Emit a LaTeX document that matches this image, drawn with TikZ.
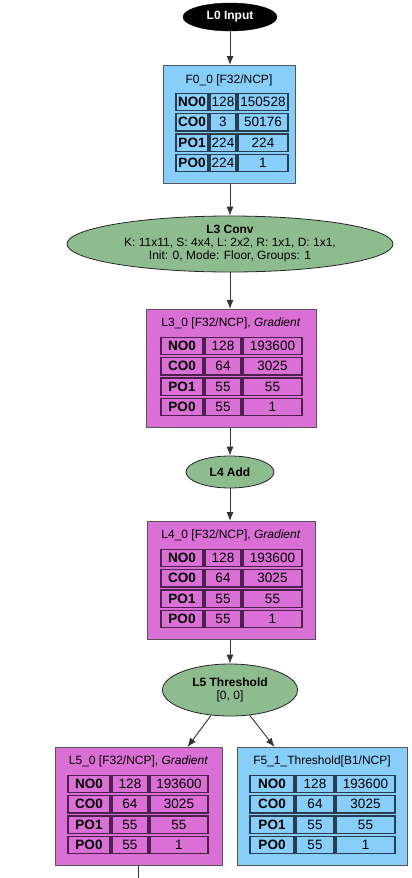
\documentclass[tikz,border=0pt]{standalone}
\usepackage{fontspec}
\setmainfont{Liberation Sans}
\usetikzlibrary{arrows.meta,shapes.geometric}
\definecolor{boxblue}{HTML}{87CEFA}
\definecolor{boxmag}{HTML}{DA70D6}
\definecolor{opgreen}{HTML}{8FBC8F}
\definecolor{bcelldraw}{RGB}{40,62,78}
\definecolor{mcelldraw}{RGB}{78,32,78}
\definecolor{boxline}{RGB}{85,85,85}
\tikzset{
  op/.style={ellipse, draw=black!85, line width=0.8pt, fill=opgreen, inner sep=0pt,
    font=\fontsize{12}{13}\selectfont, align=center},
  bluebox/.style={draw=boxline, line width=1pt, fill=boxblue, anchor=north, minimum height=118pt},
  magbox/.style={draw=boxline, line width=1pt, fill=boxmag, anchor=north, minimum height=118pt},
  titl/.style={font=\fontsize{12}{14}\selectfont, inner sep=0pt},
  bcell/.style={draw=bcelldraw, line width=1.3pt, fill=boxblue, inner sep=0pt, minimum height=17.5pt,
    font=\fontsize{13.5}{14}\selectfont},
  mcell/.style={draw=mcelldraw, line width=1.3pt, fill=boxmag, inner sep=0pt, minimum height=17.5pt,
    font=\fontsize{13.5}{14}\selectfont},
  arr/.style={-{Latex[length=9pt,width=7pt]}, draw=black!80, line width=0.9pt},
  plainline/.style={draw=black!80, line width=0.9pt},
}
% #1 prefix, #2 table left x, #3 first row centre y, #4 #5 #6 column widths, #7 cell style, #8 rows
\newcommand\gtable[8]{%
  \foreach \lab/\va/\vb [count=\i from 0] in {#8} {
    \node[#7, minimum width=#4pt] (#1-\i-a) at ({#2+#4/2}, {#3+20.3*\i}) {\bfseries\lab};
    \node[#7, minimum width=#5pt] (#1-\i-b) at ({#2+#4+2+#5/2}, {#3+20.3*\i}) {\va};
    \node[#7, minimum width=#6pt] (#1-\i-c) at ({#2+#4+2+#5+2+#6/2}, {#3+20.3*\i}) {\vb};
  }%
}
\begin{document}
\begin{tikzpicture}[x=1pt,y=-1pt]
\useasboundingbox (0,0) rectangle (412,878);
\fill[white] (0,0) rectangle (412,878);

% L0 Input
\node[ellipse, fill=black, draw=black, minimum width=94pt, minimum height=28pt, inner sep=0pt,
  text=white, font=\bfseries\fontsize{12}{13}\selectfont] (l0) at (230,17) {L0 Input};

% F0_0
\node[bluebox, minimum width=132pt] (f0) at (229,65) {};
\node[titl] (f0t) at ([yshift=-15pt]f0.north) {F0\_0 [F32/NCP]};
\gtable{f0c}{176}{102}{32}{26}{50}{bcell}{NO0/128/150528, CO0/3/50176, PO1/224/224, PO0/224/1}

% L3 Conv
\node[op, minimum width=326pt, minimum height=56pt] (l3) at (230,244)
  {\textbf{L3 Conv}\\K: 11x11, S: 4x4, L: 2x2, R: 1x1, D: 1x1,\\Init: 0, Mode: Floor, Groups: 1};

% L3_0
\node[magbox, minimum width=170pt] (l30) at (231,309) {};
\node[titl] (l30t) at ([yshift=-14.5pt]l30.north) {L3\_0 [F32/NCP], \textit{Gradient}};
\gtable{l30c}{161}{346}{42}{36}{59}{mcell}{NO0/128/193600, CO0/64/3025, PO1/55/55, PO0/55/1}

% L4 Add
\node[op, minimum width=88pt, minimum height=32pt, font=\bfseries\fontsize{12}{13}\selectfont] (l4) at (230,472) {L4 Add};

% L4_0
\node[magbox, minimum width=168pt] (l40) at (231,521) {};
\node[titl] (l40t) at ([yshift=-14.5pt]l40.north) {L4\_0 [F32/NCP], \textit{Gradient}};
\gtable{l40c}{161}{558}{42}{36}{59}{mcell}{NO0/128/193600, CO0/64/3025, PO1/55/55, PO0/55/1}

% L5 Threshold
\node[op, minimum width=135pt, minimum height=52pt] (l5) at (230,690) {\textbf{L5 Threshold}\\{}[0, 0]};

% L5_0
\node[magbox, minimum width=167pt] (l50) at (138.5,747) {};
\node[titl] (l50t) at ([yshift=-14.5pt]l50.north) {L5\_0 [F32/NCP], \textit{Gradient}};
\gtable{l50c}{68}{784}{42}{36}{58}{mcell}{NO0/128/193600, CO0/64/3025, PO1/55/55, PO0/55/1}

% F5_1
\node[bluebox, minimum width=170pt] (f51) at (322,747) {};
\node[titl] (f51t) at ([yshift=-14.5pt]f51.north) {F5\_1\_Threshold[B1/NCP]};
\gtable{f51c}{250}{784}{44}{38}{59}{bcell}{NO0/128/193600, CO0/64/3025, PO1/55/55, PO0/55/1}

% connectors
\draw[arr] (l0.south) -- (f0.north -| l0.south);
\draw[arr] (f0.south -| l3.north) -- (l3.north);
\draw[arr] (l3.south) -- (l30.north -| l3.south);
\draw[arr] (l30.south -| l4.north) -- (l4.north);
\draw[arr] (l4.south) -- (l40.north -| l4.south);
\draw[arr] (l40.south -| l5.north) -- (l5.north);
\draw[arr] (l5) -- ([xshift=-35pt]l50.north east);
\draw[arr] (l5) -- ([xshift=38pt]f51.north west);
\coordinate (out) at (138.5,878);
\draw[plainline] (l50.south) -- (out);
\end{tikzpicture}
\end{document}
